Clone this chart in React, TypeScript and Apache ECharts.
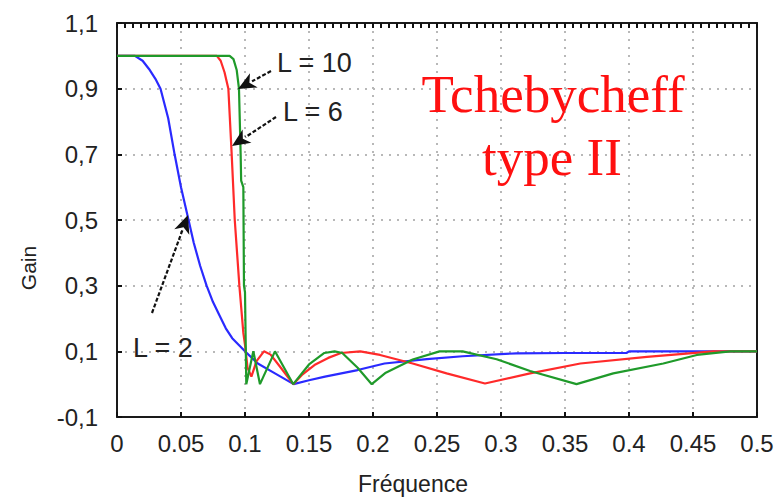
import React, { useEffect, useRef } from "react";
import * as echarts from "echarts";

// L = 2 (blue)
const blueX = [0, 0.014, 0.02, 0.025, 0.03, 0.034, 0.04, 0.045, 0.05, 0.055, 0.06, 0.065, 0.07, 0.075, 0.08, 0.085, 0.09, 0.095, 0.1, 0.11, 0.1234, 0.138, 0.15, 0.1625, 0.188, 0.209, 0.242, 0.27, 0.312, 0.35, 0.398, 0.4, 0.45, 0.5];
const blueY = [1.0, 1.0, 0.985, 0.96, 0.93, 0.9, 0.81, 0.7, 0.6, 0.515, 0.43, 0.36, 0.3, 0.25, 0.21, 0.17, 0.14, 0.12, 0.1, 0.063, 0.033, 0.0, 0.012, 0.023, 0.043, 0.063, 0.076, 0.085, 0.094, 0.095, 0.095, 0.1, 0.1, 0.1];

// L = 6 (red)
const redX = [0, 0.078, 0.081, 0.084, 0.087, 0.0896, 0.092, 0.0956, 0.0987, 0.1, 0.102, 0.105, 0.109, 0.1148, 0.12, 0.128, 0.1377, 0.145, 0.155, 0.165, 0.175, 0.19, 0.2055, 0.231, 0.2575, 0.2875, 0.3227, 0.362, 0.414, 0.466, 0.5];
const redY = [1.0, 1.0, 0.985, 0.95, 0.9, 0.7, 0.5, 0.3, 0.156, 0.12, 0.05, 0.023, 0.07, 0.1, 0.09, 0.05, 0.0, 0.03, 0.06, 0.08, 0.095, 0.1, 0.089, 0.063, 0.033, 0.002, 0.033, 0.063, 0.083, 0.1, 0.1];

// L = 10 (green)
const greenX = [0, 0.088, 0.091, 0.0935, 0.0953, 0.0966, 0.097, 0.0987, 0.0992, 0.1, 0.101, 0.1065, 0.1117, 0.1234, 0.1377, 0.15, 0.162, 0.17, 0.176, 0.188, 0.199, 0.21, 0.231, 0.252, 0.27, 0.2966, 0.3227, 0.359, 0.3877, 0.4268, 0.453, 0.479, 0.5];
const greenY = [1.0, 1.0, 0.99, 0.957, 0.9, 0.7, 0.62, 0.6, 0.3, 0.28, 0.0, 0.1, 0.0, 0.1, 0.0, 0.06, 0.095, 0.1, 0.095, 0.05, 0.0, 0.035, 0.075, 0.1, 0.1, 0.076, 0.04, 0.0, 0.033, 0.063, 0.089, 0.1, 0.1];

const seriesNames = ["L = 2", "L = 6", "L = 10"];
const seriesColors = ["#2a2aff", "#ff2a2a", "#1f9a2a"];

const xTicks = { min: 0, max: 0.5, interval: 0.05 };
const yTicks = { min: -0.1, max: 1.1, interval: 0.2 };

const titleLines = ["Tchebycheff", "type II"];

function pairs(xs: number[], ys: number[]) {
  return xs.map((x, i) => [x, ys[i]]);
}

function arrow(x1: number, y1: number, tx: number, ty: number) {
  const dx = tx - x1;
  const dy = ty - y1;
  const len = Math.sqrt(dx * dx + dy * dy);
  const ux = dx / len;
  const uy = dy / len;
  const hl = 18;
  const hw = 8;
  const bx = tx - hl * ux;
  const by = ty - hl * uy;
  const nx = -uy;
  const ny = ux;
  return [
    {
      type: "line",
      shape: { x1, y1, x2: bx + 2 * ux, y2: by + 2 * uy },
      style: { stroke: "#111", lineWidth: 2.2, lineDash: [4, 2] },
      z: 100,
    },
    {
      type: "polygon",
      shape: {
        points: [
          [tx, ty],
          [bx + hw * nx, by + hw * ny],
          [bx + 5 * ux, by + 5 * uy],
          [bx - hw * nx, by - hw * ny],
        ],
      },
      style: { fill: "#111" },
      z: 100,
    },
  ];
}

function label(text: string, x: number, y: number) {
  return {
    type: "text",
    position: [x, y],
    z: 100,
    style: {
      text,
      fill: "#222",
      font: "27px 'Liberation Sans', Arial, sans-serif",
      align: "left",
      verticalAlign: "middle",
    },
  };
}

function title(text: string, x: number, y: number) {
  return {
    type: "text",
    position: [x, y],
    z: 100,
    style: {
      text,
      fill: "#ff1010",
      font: "53px 'Liberation Serif', 'Times New Roman', serif",
      align: "center",
      verticalAlign: "middle",
    },
  };
}

export default function App() {
  const ref = useRef<HTMLDivElement>(null);
  useEffect(() => {
    if (!ref.current) return;
    const chart = echarts.init(ref.current, null, { renderer: "svg" });
    const labelFont = "Liberation Sans, Arial, sans-serif";
    const tick = (show: boolean) => ({ show, inside: true, length: 5, lineStyle: { color: "#111", width: 2 } });
    const line = () => ({ show: true, onZero: false, lineStyle: { color: "#1a1a1a", width: 2 } });
    const option: any = {
      animation: false,
      backgroundColor: "#ffffff",
      grid: {
        left: 117,
        top: 23,
        right: 25,
        bottom: 81,
        containLabel: false,
        outerBoundsMode: "none",
        show: false,
      },
      xAxis: [
        {
          type: "value",
          min: xTicks.min,
          max: xTicks.max,
          interval: xTicks.interval,
          name: "Fréquence",
          nameLocation: "middle",
          nameGap: 55,
          nameTextStyle: {
            fontFamily: labelFont,
            fontSize: 23,
            color: "#222",
            padding: [0, 48, 0, 0],
          },
          axisLine: line(),
          axisTick: tick(true),
          axisLabel: {
            fontFamily: labelFont,
            fontSize: 24,
            color: "#222",
            margin: 14,
            formatter: (v: number) => String(+v.toFixed(2)),
          },
          splitLine: { show: true, lineStyle: { color: "#b8b8b8", width: 2, type: [2, 6] } },
        },
        {
          type: "value",
          position: "top",
          min: xTicks.min,
          max: xTicks.max,
          interval: xTicks.interval / 8,
          axisLine: line(),
          axisTick: tick(true),
          axisLabel: { show: false },
          splitLine: { show: false },
        },
      ],
      yAxis: [
        {
          type: "value",
          min: yTicks.min,
          max: yTicks.max,
          interval: yTicks.interval,
          name: "Gain",
          nameLocation: "middle",
          nameRotate: 90,
          nameGap: 78,
          nameTextStyle: {
            fontFamily: labelFont,
            fontSize: 21,
            color: "#222",
            padding: [0, 96, 0, 0],
          },
          axisLine: line(),
          axisTick: tick(true),
          axisLabel: {
            fontFamily: labelFont,
            fontSize: 24,
            color: "#222",
            margin: 19,
            formatter: (v: number) => v.toFixed(1).replace(".", ","),
          },
          splitLine: { show: true, lineStyle: { color: "#b8b8b8", width: 2, type: [2, 6] } },
        },
        {
          type: "value",
          position: "right",
          min: yTicks.min,
          max: yTicks.max,
          interval: yTicks.interval,
          axisLine: line(),
          axisTick: tick(false),
          axisLabel: { show: false },
          splitLine: { show: false },
        },
      ],
      series: [
        { name: seriesNames[0], data: pairs(blueX, blueY), color: seriesColors[0] },
        { name: seriesNames[1], data: pairs(redX, redY), color: seriesColors[1] },
        { name: seriesNames[2], data: pairs(greenX, greenY), color: seriesColors[2] },
      ].map((s) => ({
        type: "line",
        name: s.name,
        data: s.data,
        xAxisIndex: 0,
        yAxisIndex: 0,
        showSymbol: false,
        symbol: "none",
        lineStyle: { color: s.color, width: 2.2 },
        itemStyle: { color: s.color },
      })),
      graphic: [
        title(titleLines[0], 553, 94),
        title(titleLines[1], 552, 157),
        label(seriesNames[2], 277, 63),
        label(seriesNames[1], 283, 112),
        label(seriesNames[0], 133, 348),
        ...arrow(271, 71, 238, 89),
        ...arrow(276, 117, 232, 146),
        ...arrow(152, 313, 188, 215),
      ],
    };
    chart.setOption(option);
    return () => chart.dispose();
  }, []);
  return (
    <div
      ref={ref}
      style={{ position: "fixed", left: 0, top: 0, width: 782, height: 498, background: "#fff" }}
    />
  );
}
